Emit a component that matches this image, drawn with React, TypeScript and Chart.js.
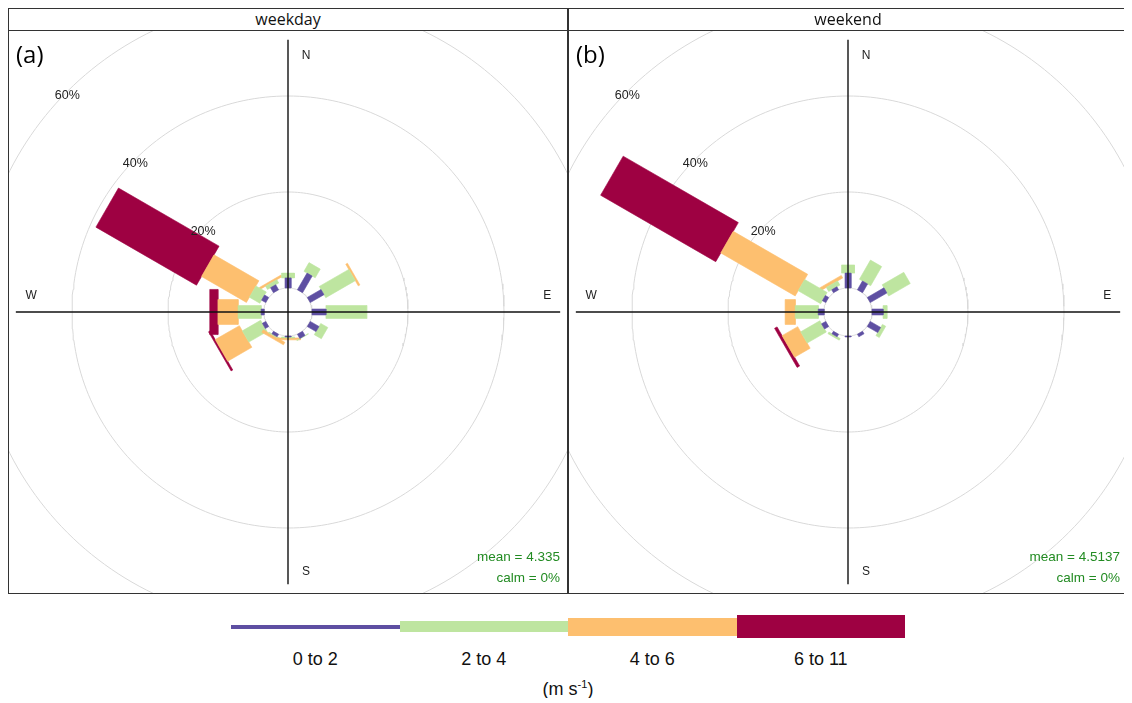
import React, { useEffect, useRef } from "react";
import { Chart, registerables } from "chart.js";

Chart.register(...registerables);

// ---------- data ----------
const directions = [0, 30, 60, 90, 120, 150, 180, 210, 240, 270, 300, 330];
const speedBins = ["0 to 2", "2 to 4", "4 to 6", "6 to 11"];
const speedColors = ["#5E4FA2", "#BEE5A0", "#FDBF6F", "#9E0142"];

// frequency (%) per direction, per speed bin
const weekday0to2 = [2.1, 4.0, 3.3, 2.9, 2.1, 1.0, 0.2, 0.6, 0.8, 0.6, 1.0, 1.2];
const weekday2to4 = [1.0, 2.1, 7.1, 8.5, 1.7, 0.1, 0.2, 0.2, 4.4, 4.8, 2.5, 0.8];
const weekday4to6 = [0, 0, 0.4, 0, 0, 0, 0.4, 0.6, 5.8, 4.2, 10.8, 0.4];
const weekday6to11 = [0, 0, 0, 0, 0, 0, 0, 0, 0.4, 1.7, 24.2, 0];

const weekend0to2 = [3.1, 2.1, 4.0, 2.3, 2.5, 0.6, 0.2, 0.6, 1.0, 1.2, 0.8, 0.7];
const weekend2to4 = [1.7, 4.6, 5.2, 0.8, 0.8, 0, 0, 0.4, 4.6, 4.8, 5.4, 1.0];
const weekend4to6 = [0, 0, 0, 0, 0, 0, 0, 0, 3.75, 2.1, 17.9, 0.6];
const weekend6to11 = [0, 0, 0, 0, 0, 0, 0, 0, 0.6, 0, 27.7, 0];

const gridPercents = [20, 40, 60];
const gridLabels = ["20%", "40%", "60%"];
const panelTitles = ["weekday", "weekend"];
const panelTags = ["(a)", "(b)"];
const meanTexts = ["mean = 4.335", "mean = 4.5137"];
const calmTexts = ["calm = 0%", "calm = 0%"];
const unitLabel = "(m s";

// ---------- geometry / style ----------
const OFFSET = 5; // hollow centre, in % units
const PX_PER_UNIT = 4.8;
const CANVAS_W = 560;
const CANVAS_H = 564;
const HALF_WIDTHS = [0.62, 1.35, 2.6, 4.7];
const AXIS_LEN = 56.7;
const LEGEND_THICK = [4, 11, 18, 23];

type Series = number[][];

function buildDatasets(series: Series) {
  const datasets: any[] = [];
  [OFFSET, ...gridPercents.map((p) => OFFSET + p)].forEach((r) => {
    const pts: { x: number; y: number }[] = [];
    for (let i = 0; i <= 240; i++) {
      const a = (i * 2 * Math.PI) / 240;
      pts.push({ x: r * Math.sin(a), y: r * Math.cos(a) });
    }
    datasets.push({
      data: pts,
      showLine: true,
      borderColor: "#d9d9d9",
      borderWidth: 1,
      pointRadius: 0,
      fill: false,
      order: 3,
    });
  });

  directions.forEach((deg, i) => {
    let cum = OFFSET;
    series.forEach((vals, j) => {
      const v = vals[i];
      if (v > 0) {
        const a = cum;
        const b = cum + v;
        cum = b;
        const t = (deg * Math.PI) / 180;
        const s = Math.sin(t);
        const c = Math.cos(t);
        const w = HALF_WIDTHS[j];
        const pts = [
          { x: a * s - w * c, y: a * c + w * s },
          { x: b * s - w * c, y: b * c + w * s },
          { x: b * s + w * c, y: b * c - w * s },
          { x: a * s + w * c, y: a * c - w * s },
          { x: a * s - w * c, y: a * c + w * s },
        ];
        datasets.push({
          data: pts,
          showLine: true,
          fill: "shape",
          backgroundColor: speedColors[j],
          borderColor: speedColors[j],
          borderWidth: 0.6,
          pointRadius: 0,
          tension: 0,
          order: 2,
        });
      }
    });
  });

  datasets.push({
    data: [
      { x: 0, y: -AXIS_LEN },
      { x: 0, y: AXIS_LEN },
    ],
    showLine: true,
    borderColor: "#111",
    borderWidth: 1.4,
    pointRadius: 0,
    fill: false,
    order: 1,
  });
  datasets.push({
    data: [
      { x: -AXIS_LEN, y: 0 },
      { x: AXIS_LEN, y: 0 },
    ],
    showLine: true,
    borderColor: "#111",
    borderWidth: 1.4,
    pointRadius: 0,
    fill: false,
    order: 1,
  });
  return datasets;
}

function RoseChart({ series, idx }: { series: Series; idx: number }) {
  const ref = useRef<HTMLCanvasElement>(null);
  useEffect(() => {
    if (!ref.current) return;
    const xr = CANVAS_W / 2 / PX_PER_UNIT;
    const yr = CANVAS_H / 2 / PX_PER_UNIT;
    const textPlugin = {
      id: "roseText" + idx,
      afterDatasetsDraw(chart: any) {
        const { ctx } = chart;
        const sx = chart.scales.x;
        const sy = chart.scales.y;
        const px = (v: number) => sx.getPixelForValue(v);
        const py = (v: number) => sy.getPixelForValue(v);
        ctx.save();
        ctx.textAlign = "center";
        ctx.textBaseline = "middle";
        ctx.fillStyle = "#222";
        ctx.font = "12.5px 'Liberation Sans', Arial, sans-serif";
        gridPercents.forEach((p, k) => {
          const r = OFFSET + p;
          ctx.fillText(gridLabels[k], px(-r * Math.SQRT1_2), py(r * Math.SQRT1_2) + 4);
        });
        ctx.font = "12px 'Liberation Sans', Arial, sans-serif";
        ctx.fillText("N", px(3.75), py(53.5));
        ctx.fillText("S", px(3.75), py(-54.2));
        ctx.fillText("W", px(-53.5), py(3.3));
        ctx.fillText("E", px(54), py(3.3));

        ctx.textAlign = "left";
        ctx.fillStyle = "#000";
        ctx.font = "24px 'Open Sans', sans-serif";
        ctx.fillText(panelTags[idx], 8, 26);

        ctx.textAlign = "right";
        ctx.fillStyle = "#228B22";
        ctx.font = "13.5px 'Liberation Sans', Arial, sans-serif";
        ctx.fillText(meanTexts[idx], 552, 527);
        ctx.fillText(calmTexts[idx], 552, 548);
        ctx.restore();
      },
    };
    const chart = new Chart(ref.current, {
      type: "scatter",
      data: { datasets: buildDatasets(series) },
      options: {
        animation: false,
        responsive: false,
        devicePixelRatio: 1,
        layout: { padding: 0 },
        plugins: { legend: { display: false }, tooltip: { enabled: false } },
        scales: {
          x: { type: "linear", min: -xr, max: xr, display: false },
          y: { type: "linear", min: -yr, max: yr, display: false },
        },
      } as any,
      plugins: [textPlugin],
    } as any);
    return () => chart.destroy();
  }, [series, idx]);
  return (
    <canvas
      ref={ref}
      width={CANVAS_W}
      height={CANVAS_H}
      style={{ position: "absolute", left: 0, top: 22, width: CANVAS_W, height: CANVAS_H }}
    />
  );
}

const weekdaySeries: Series = [weekday0to2, weekday2to4, weekday4to6, weekday6to11];
const weekendSeries: Series = [weekend0to2, weekend2to4, weekend4to6, weekend6to11];
const allSeries = [weekdaySeries, weekendSeries];

export default function App() {
  const legendLeft = 223;
  const segW = 168.5;
  const legendMid = 618.5;
  return (
    <div style={{ position: "relative", width: 1120, height: 690, background: "#fff" }}>
      {allSeries.map((s, k) => (
        <div
          key={k}
          style={{ position: "absolute", left: k * 560, top: 0, width: 560, height: 586 }}
        >
          <RoseChart series={s} idx={k} />
          <div
            style={{
              position: "absolute",
              left: 0,
              top: 0,
              width: 560,
              height: 22,
              display: "flex",
              alignItems: "center",
              justifyContent: "center",
              fontFamily: "'Open Sans', sans-serif",
              fontSize: 16,
              color: "#111",
            }}
          >
            {panelTitles[k]}
          </div>
          <div
            style={{
              position: "absolute",
              left: 0,
              top: 22,
              width: 560,
              height: 1,
              background: "#333",
            }}
          />
          <div
            style={{
              position: "absolute",
              left: 0,
              top: 0,
              width: 560,
              height: 586,
              border: "1px solid #333",
              boxSizing: "border-box",
              pointerEvents: "none",
            }}
          />
        </div>
      ))}
      {speedBins.map((lab, j) => (
        <React.Fragment key={j}>
          <div
            style={{
              position: "absolute",
              left: legendLeft + j * segW,
              top: legendMid - LEGEND_THICK[j] / 2,
              width: segW,
              height: LEGEND_THICK[j],
              background: speedColors[j],
            }}
          />
          <div
            style={{
              position: "absolute",
              left: legendLeft + j * segW,
              top: 641,
              width: segW,
              textAlign: "center",
              fontFamily: "'Liberation Sans', Arial, sans-serif",
              fontSize: 18,
              color: "#111",
            }}
          >
            {lab}
          </div>
        </React.Fragment>
      ))}
      <div
        style={{
          position: "absolute",
          left: 0,
          width: 1120,
          top: 670,
          textAlign: "center",
          fontFamily: "'Liberation Sans', Arial, sans-serif",
          fontSize: 18,
          color: "#111",
        }}
      >
        {unitLabel}
        <sup style={{ fontSize: 11 }}>-1</sup>)
      </div>
    </div>
  );
}
